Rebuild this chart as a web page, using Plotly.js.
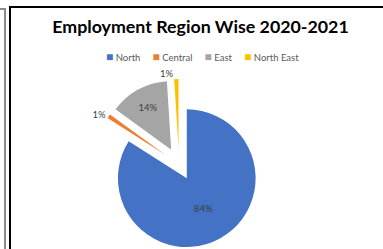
<!DOCTYPE html>
<html>
<head>
<meta charset="utf-8">
<script src="https://cdn.plot.ly/plotly-3.0.1.min.js"></script>
<style>html,body{margin:0;padding:0;background:#fff;}#chart{width:383px;height:249px;}</style>
</head>
<body>
<div id="chart"></div>
<script>
var regions = ["North", "Central", "East", "North East"];
var shares = [84, 1, 14, 1];
var sliceColors = ["#4472C4", "#ED7D31", "#A5A5A5", "#FFC000"];
var labelPositions = ["inside", "outside", "inside", "outside"];
var pulls = [0.235, 0.235, 0.235, 0.235];

var W = 383, H = 249;
function px(x) { return x / W; }
function py(y) { return 1 - y / H; }

var trace = {
  type: "pie",
  labels: regions,
  values: shares,
  sort: false,
  direction: "clockwise",
  rotation: 0,
  pull: pulls,
  marker: { colors: sliceColors, line: { width: 0 } },
  textinfo: "percent",
  texttemplate: "%{percent:.0%}",
  textposition: labelPositions,
  insidetextorientation: "horizontal",
  textfont: { family: "Lato, sans-serif", size: 9.5, color: "#404040" },
  outsidetextfont: { family: "Lato, sans-serif", size: 9.5, color: "#404040" },
  domain: { x: [px(93), px(265)], y: [0, py(79)] },
  hoverinfo: "label+percent",
  showlegend: false
};

// legend row built from the category and colour arrays
var legendText = regions.map(function (r, i) {
  return '<span style="color:' + sliceColors[i] + ';font-size:12px">■</span>&nbsp;' + r;
}).join('&nbsp;&nbsp;&nbsp;&nbsp;&nbsp;');

var layout = {
  width: W, height: H,
  margin: { l: 0, r: 0, t: 0, b: 0 },
  paper_bgcolor: "#ffffff",
  plot_bgcolor: "#ffffff",
  showlegend: false,
  title: {
    text: "<b>Employment Region Wise 2020-2021</b>",
    font: { family: "Lato, sans-serif", size: 17.8, color: "#000000" },
    x: px(200.5), xanchor: "center",
    y: py(27), yanchor: "middle"
  },
  annotations: [{
    xref: "paper", yref: "paper",
    x: px(202.5), y: py(56), xanchor: "center", yanchor: "middle",
    showarrow: false,
    text: legendText,
    font: { family: "Lato, sans-serif", size: 9.5, color: "#595959" }
  }],
  shapes: [
    { type: "line", xref: "paper", yref: "paper", x0: px(0), x1: px(6), y0: py(9), y1: py(9), line: { color: "#8c8c8c", width: 2 } },
    { type: "line", xref: "paper", yref: "paper", x0: px(5), x1: px(5), y0: py(8), y1: py(249), line: { color: "#8c8c8c", width: 2 } },
    { type: "line", xref: "paper", yref: "paper", x0: px(9), x1: px(383), y0: py(7), y1: py(7), line: { color: "#000000", width: 2 } },
    { type: "line", xref: "paper", yref: "paper", x0: px(10), x1: px(10), y0: py(6), y1: py(249), line: { color: "#000000", width: 2 } }
  ]
};

Plotly.newPlot("chart", [trace], layout, { displayModeBar: false, staticPlot: true });
</script>
</body>
</html>
